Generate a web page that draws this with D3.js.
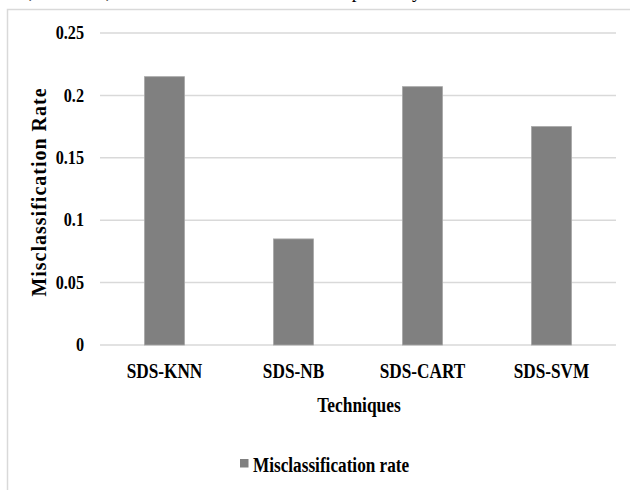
<!DOCTYPE html>
<html>
<head>
<meta charset="utf-8">
<script src="https://cdn.jsdelivr.net/npm/d3@7"></script>
<style>
  body { margin: 0; background: #fff; }
  text { font-family: "Liberation Serif", "Times New Roman", serif; }
</style>
</head>
<body>
<div id="chart-area"></div>
<script>
// data
let techniques = ["SDS-KNN", "SDS-NB", "SDS-CART", "SDS-SVM"];
let rates = [0.215, 0.085, 0.207, 0.175];
let yTicks = [0, 0.05, 0.1, 0.15, 0.2, 0.25];
let seriesName = "Misclassification rate";

let W = 630, H = 490;
let margin = {top: 33, right: 14, bottom: 145, left: 100};
let width = W - margin.left - margin.right,
    height = H - margin.top - margin.bottom;

let root = d3.select("#chart-area").append("svg")
    .attr("width", W)
    .attr("height", H);

// squeeze text horizontally like the narrow bold Times in the picture
function squish(sel, k) {
    sel.each(function () {
        let w = this.getComputedTextLength();
        d3.select(this).attr("textLength", w * k).attr("lengthAdjust", "spacingAndGlyphs");
    });
}

// bit of the document caption cut off at the top
root.append("text")
    .attr("x", 425).attr("y", -2)
    .attr("text-anchor", "end")
    .style("font-size", "19px")
    .text("the accuracy of SDS-KNN, SDS-NB, SDS-CART and SDS-SVM respectively.");

// chart frame (only left and top edges are in view)
root.append("path")
    .attr("d", "M7.5," + H + "V9.5H" + W)
    .attr("fill", "none")
    .attr("stroke", "#d9d9d9")
    .attr("stroke-width", 1.5);

let svg = root.append("g")
    .attr("transform", "translate(" + margin.left + "," + margin.top + ")");

let x = d3.scaleBand()
    .domain(techniques)
    .range([0, width])
    .paddingInner(0.69)
    .paddingOuter(0.345);

let y = d3.scaleLinear()
    .domain([0, 0.25])
    .range([height, 0]);

// gridlines
svg.append("g")
    .selectAll("line")
    .data(yTicks)
    .enter().append("line")
    .attr("x1", 0).attr("x2", width)
    .attr("y1", d => y(d)).attr("y2", d => y(d))
    .attr("stroke", "#d9d9d9")
    .attr("stroke-width", 1.5);

// y tick labels
let yAxis = d3.axisLeft(y)
    .tickValues(yTicks)
    .tickSize(0)
    .tickPadding(16)
    .tickFormat(d => String(d));

let yg = svg.append("g").call(yAxis);
yg.select(".domain").remove();
yg.selectAll("text")
    .style("font-family", "'Liberation Serif', serif")
    .style("font-size", "18px")
    .style("font-weight", "bold")
    .attr("fill", "#000")
    .call(squish, 0.9);

// bars
svg.selectAll(".bar")
    .data(rates)
    .enter().append("rect")
    .attr("class", "bar")
    .attr("x", (d, i) => x(techniques[i]))
    .attr("y", d => y(d))
    .attr("width", x.bandwidth())
    .attr("height", d => height - y(d))
    .attr("fill", "#808080")
    .attr("stroke", "#a6a6a6")
    .attr("stroke-width", 0.8);

// x axis labels
let xAxis = d3.axisBottom(x).tickSize(0).tickPadding(18);
let xg = svg.append("g")
    .attr("transform", "translate(0," + height + ")")
    .call(xAxis);
xg.select(".domain").remove();
xg.selectAll("text")
    .style("font-family", "'Liberation Serif', serif")
    .style("font-size", "21px")
    .style("font-weight", "bold")
    .attr("fill", "#000")
    .call(squish, 0.82);

// axis titles
svg.append("text")
    .attr("x", width / 2 + 1)
    .attr("y", height + 67)
    .attr("text-anchor", "middle")
    .style("font-size", "20px")
    .style("font-weight", "bold")
    .text("Techniques")
    .call(squish, 0.87);

root.append("text")
    .attr("transform", "translate(46,192) rotate(-90)")
    .attr("text-anchor", "middle")
    .style("font-size", "20px")
    .style("font-weight", "bold")
    .style("letter-spacing", "1px")
    .text("Misclassification Rate");

// legend
let legend = root.append("g").attr("transform", "translate(240,459)");
legend.append("rect")
    .attr("width", 8.5).attr("height", 8.5)
    .attr("fill", "#808080");
legend.append("text")
    .attr("x", 13).attr("y", 13)
    .style("font-size", "20px")
    .style("font-weight", "bold")
    .text(seriesName)
    .call(squish, 0.86);
</script>
</body>
</html>
